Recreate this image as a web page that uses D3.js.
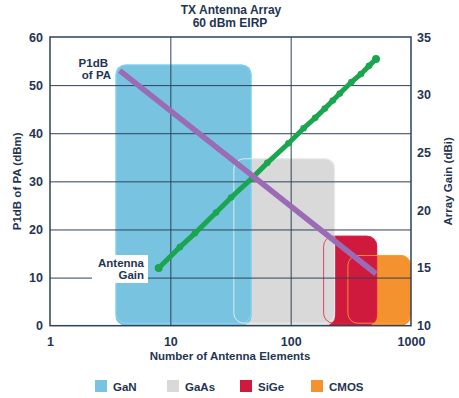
<!DOCTYPE html>
<html>
<head>
<meta charset="utf-8">
<script src="https://cdn.jsdelivr.net/npm/d3@7"></script>
<style>
  body { margin: 0; background: #fff; }
  text { font-family: "Liberation Sans", Arial, sans-serif; font-weight: bold; fill: #1f3553; }
</style>
</head>
<body>
<div id="canvas"></div>
<script>
// chart data
var techs = ["GaN", "GaAs", "SiGe", "CMOS"];
var techColors = ["#78c4e0", "#d9d9d9", "#cf1a3d", "#f3922f"];
var barFrom = [3.5, 33.4, 186, 296]; // number of elements
var barTo = [47.4, 234, 523, 1000];
var barTop = [54.3, 34.8, 18.7, 14.7]; // dBm

// P1dB of PA (dBm) vs elements
var paElements = [3.8, 512];
var paP1dB = [53.0, 10.8];

// antenna gain (dBi) vs elements
var gainElements = [8, 12, 16, 24, 32, 48, 64, 96, 128, 160, 192, 224, 256, 320, 384, 448, 512];
var gainValues = [15.0, 16.8, 18.0, 19.8, 21.1, 22.8, 24.1, 25.8, 27.1, 28.0, 28.8, 29.5, 30.1, 31.1, 31.8, 32.5, 33.1];

var xTicks = [1, 10, 100, 1000];
var leftTicks = [0, 10, 20, 30, 40, 50, 60];
var rightTicks = [10, 15, 20, 25, 30, 35];

var margin = { top: 37, right: 48, bottom: 72.3, left: 50 },
  width = 459 - margin.left - margin.right,
  height = 398 - margin.top - margin.bottom;

var root = d3
  .select("#canvas")
  .append("svg")
  .attr("width", 459)
  .attr("height", 398);

var svg = root
  .append("g")
  .attr("transform", "translate(" + margin.left + "," + margin.top + ")");

var xScale = d3.scaleLog().domain([1, 1000]).range([0, width]);
var yLeft = d3.scaleLinear().domain([0, 60]).range([height, 0]);
var yRight = d3.scaleLinear().domain([10, 35]).range([height, 0]);

// bars, back to front: CMOS, SiGe, GaAs, GaN
var bars = techs.map((t, i) => ({ name: t, color: techColors[i], from: barFrom[i], to: barTo[i], top: barTop[i] }));

svg
  .append("g")
  .selectAll("rect")
  .data(bars.slice().reverse())
  .enter()
  .append("rect")
  .attr("x", (d) => xScale(d.from))
  .attr("y", (d) => yLeft(d.top))
  .attr("width", (d) => xScale(d.to) - xScale(d.from))
  .attr("height", (d) => yLeft(0) - yLeft(d.top))
  .attr("rx", 10)
  .attr("fill", (d) => d.color);

// thin outlines show the hidden parts of overlapped bars
svg
  .append("g")
  .selectAll("rect")
  .data(bars)
  .enter()
  .append("rect")
  .attr("x", (d) => xScale(d.from) + 0.5)
  .attr("y", (d) => yLeft(d.top) + 0.5)
  .attr("width", (d) => xScale(d.to) - xScale(d.from) - 1)
  .attr("height", (d) => yLeft(0) - yLeft(d.top) - 3)
  .attr("rx", 10)
  .attr("fill", "none")
  .attr("stroke", (d) => d3.color(d.color).brighter(0.3))
  .attr("stroke-opacity", 0.8)
  .attr("stroke-width", 1);

// grid
var yGrid = d3.axisLeft(yLeft).tickValues([10, 20, 30, 40, 50]).tickSize(-width).tickFormat("");
var xGrid = d3.axisBottom(xScale).tickValues([10, 100]).tickSize(-height).tickFormat("");

svg
  .append("g")
  .attr("class", "grid")
  .call(yGrid)
  .call((g) => g.select(".domain").remove());
svg
  .append("g")
  .attr("class", "grid")
  .attr("transform", "translate(0," + height + ")")
  .call(xGrid)
  .call((g) => g.select(".domain").remove());
svg.selectAll(".grid line").attr("stroke", "#2e4259").attr("stroke-width", 1);

// frame
svg
  .append("rect")
  .attr("width", width)
  .attr("height", height)
  .attr("fill", "none")
  .attr("stroke", "#2e4259")
  .attr("stroke-width", 1.5);

// axis labels
var x_axis = d3.axisBottom(xScale).tickValues(xTicks).tickSize(0).tickPadding(11).tickFormat(d3.format("d"));
var y_axis = d3.axisLeft(yLeft).tickValues(leftTicks).tickSize(0).tickPadding(7);
var y2_axis = d3.axisRight(yRight).tickValues(rightTicks).tickSize(0).tickPadding(6);

svg.append("g").attr("class", "axis").attr("transform", "translate(0," + height + ")").call(x_axis);
svg.append("g").attr("class", "axis").call(y_axis);
svg.append("g").attr("class", "axis").attr("transform", "translate(" + width + ",0)").call(y2_axis);
svg.selectAll(".axis .domain").remove();
svg
  .selectAll(".axis text")
  .attr("fill", "#1f3553")
  .style("font-size", "12.5px")
  .style("font-weight", "bold")
  .style("font-family", "'Liberation Sans', Arial, sans-serif");

// antenna gain line
var gainPts = gainElements.map((n, i) => [n, gainValues[i]]);
var gainLine = d3
  .line()
  .x((d) => xScale(d[0]))
  .y((d) => yRight(d[1]));

svg
  .append("path")
  .datum(gainPts)
  .attr("d", gainLine)
  .attr("fill", "none")
  .attr("stroke", "#1aa64f")
  .attr("stroke-width", 5)
  .attr("stroke-linecap", "round");

svg
  .append("g")
  .selectAll("circle")
  .data(gainPts)
  .enter()
  .append("circle")
  .attr("cx", (d) => xScale(d[0]))
  .attr("cy", (d) => yRight(d[1]))
  .attr("r", (d, i) => (i == 0 || i == gainPts.length - 1 ? 4 : 3.3))
  .attr("fill", "#1aa64f");

// PA P1dB line
var paPts = paElements.map((n, i) => [n, paP1dB[i]]);
svg
  .append("path")
  .datum(paPts)
  .attr("d", d3.line().x((d) => xScale(d[0])).y((d) => yLeft(d[1])))
  .attr("fill", "none")
  .attr("stroke", "#9b6bb5")
  .attr("stroke-width", 5.5)
  .attr("stroke-linecap", "butt");

// line labels
svg
  .append("rect")
  .attr("x", 92 - margin.left)
  .attr("y", 255 - margin.top)
  .attr("width", 56)
  .attr("height", 28)
  .attr("fill", "#fff");

var labelData = [
  { t: "P1dB", x: 108, y: 67 },
  { t: "of PA", x: 111, y: 79 },
  { t: "Antenna", x: 144, y: 267 },
  { t: "Gain", x: 144, y: 279 },
];
root
  .selectAll("text.lbl")
  .data(labelData)
  .enter()
  .append("text")
  .attr("class", "lbl")
  .attr("x", (d) => d.x)
  .attr("y", (d) => d.y)
  .attr("text-anchor", "end")
  .style("font-size", "11.5px")
  .text((d) => d.t);

// titles
root.append("text").attr("x", 231).attr("y", 14).attr("text-anchor", "middle").style("font-size", "12px").text("TX Antenna Array");
root.append("text").attr("x", 230).attr("y", 27).attr("text-anchor", "middle").style("font-size", "12px").text("60 dBm EIRP");
root
  .append("text")
  .attr("x", 230)
  .attr("y", 360)
  .attr("text-anchor", "middle")
  .style("font-size", "11.5px")
  .text("Number of Antenna Elements");
root
  .append("text")
  .attr("transform", "translate(21," + (margin.top + height / 2) + ") rotate(-90)")
  .attr("text-anchor", "middle")
  .style("font-size", "11.5px")
  .text("P1dB of PA (dBm)");
root
  .append("text")
  .attr("transform", "translate(452," + (margin.top + height / 2) + ") rotate(-90)")
  .attr("text-anchor", "middle")
  .style("font-size", "11.5px")
  .text("Array Gain (dBi)");

// legend
var legendX = [95, 167, 240, 311];
var legend = root
  .selectAll("g.legend")
  .data(bars)
  .enter()
  .append("g")
  .attr("class", "legend")
  .attr("transform", (d, i) => "translate(" + legendX[i] + ",380)");
legend.append("rect").attr("width", 12).attr("height", 12).attr("fill", (d) => d.color);
legend
  .append("text")
  .attr("x", 18)
  .attr("y", 11)
  .style("font-size", "11.5px")
  .text((d) => d.name);
</script>
</body>
</html>
